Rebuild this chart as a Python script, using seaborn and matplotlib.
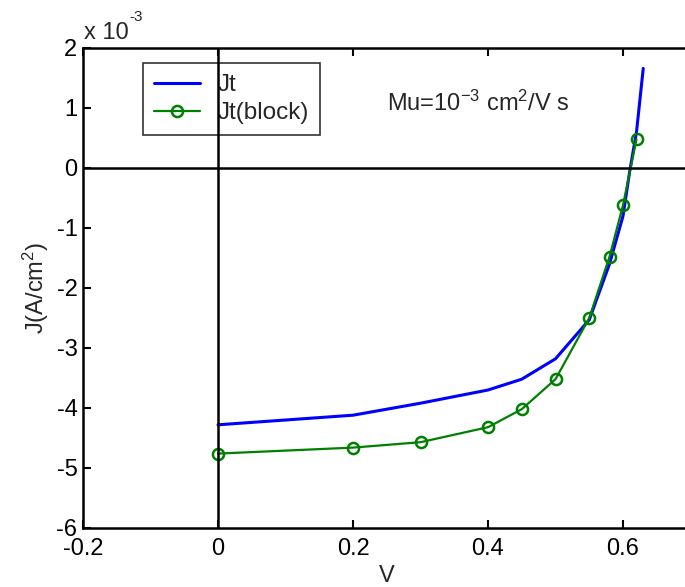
import matplotlib
matplotlib.use("Agg")
import matplotlib.pyplot as plt
import seaborn as sns
import pandas as pd

# Current density vs. voltage (J in units of 1e-3 A/cm^2)
v_jt = [0.0, 0.1, 0.2, 0.3, 0.4, 0.45, 0.5, 0.55, 0.58, 0.6, 0.61, 0.62, 0.63]
j_jt = [-4.28, -4.20, -4.12, -3.92, -3.70, -3.52, -3.18, -2.53, -1.60, -0.80, -0.05, 0.60, 1.66]

v_block = [0.0, 0.2, 0.3, 0.4, 0.45, 0.5, 0.55, 0.58, 0.6, 0.62]
j_block = [-4.76, -4.66, -4.57, -4.32, -4.02, -3.52, -2.50, -1.48, -0.62, 0.48]

x_ticks = [-0.2, 0, 0.2, 0.4, 0.6]
x_tick_labels = ["-0.2", "0", "0.2", "0.4", "0.6"]
y_ticks = [-6, -5, -4, -3, -2, -1, 0, 1, 2]

sns.set_style("white")
plt.rcParams["font.family"] = ["Liberation Sans", "DejaVu Sans"]
plt.rcParams["mathtext.fontset"] = "custom"
plt.rcParams["mathtext.rm"] = "Liberation Sans"
plt.rcParams["mathtext.default"] = "regular"

W, H = 685, 587
fig = plt.figure(figsize=(W / 100, H / 100), dpi=100)
ax = fig.add_axes([83 / W, 1 - 528 / H, (690.5 - 83) / W, (528 - 48) / H])

df_jt = pd.DataFrame({"V": v_jt, "J": j_jt})
df_block = pd.DataFrame({"V": v_block, "J": j_block})

sns.lineplot(data=df_jt, x="V", y="J", ax=ax, color="#0000ff", linewidth=2.2,
             label="Jt", zorder=3)
sns.lineplot(data=df_block, x="V", y="J", ax=ax, color="#008000", linewidth=1.6,
             marker="o", markersize=8, markerfacecolor="none",
             markeredgecolor="#008000", markeredgewidth=1.8,
             label="Jt(block)", zorder=3)

# zero axes
ax.axhline(0, color="black", linewidth=1.8, zorder=4)
ax.axvline(0, color="black", linewidth=1.8, zorder=4)

ax.set_xlim(-0.2, 0.7)
ax.set_ylim(-6, 2)
ax.set_xticks(x_ticks)
ax.set_xticklabels(x_tick_labels)
ax.set_yticks(y_ticks)
ax.set_yticklabels([str(t) for t in y_ticks])
ax.tick_params(axis="both", direction="in", length=6, width=1.5, labelsize=17,
               top=True, bottom=True, left=True, right=False,
               colors="black")
ax.tick_params(axis="x", pad=7)
ax.tick_params(axis="y", pad=4)
for side in ("left", "top", "bottom", "right"):
    ax.spines[side].set_color("black")
    ax.spines[side].set_linewidth(1.8)

ax.set_xlabel("V", fontsize=17, labelpad=4)
ax.set_ylabel("J(A/cm$^2$)", fontsize=17, labelpad=4)

# exponent marker above the y axis
fig.text(84 / W, 1 - 33 / H, "x 10", fontsize=17, ha="left", va="center")
fig.text(129 / W, 1 - 17 / H, "-3", fontsize=11, ha="left", va="center")

ax.text(387 / W, 1 - 103 / H, "Mu=10$^{-3}$ cm$^2$/V s", fontsize=17,
        transform=fig.transFigure, ha="left", va="center")

leg = ax.legend(loc="upper left", bbox_to_anchor=(142.7 / W, 1 - 63.3 / H),
                bbox_transform=fig.transFigure, fontsize=17.5, frameon=True,
                fancybox=False, handlelength=1.9, handletextpad=0.75,
                labelspacing=0.25, borderpad=0.45, borderaxespad=0)
leg.get_frame().set_edgecolor("black")
leg.get_frame().set_linewidth(1.2)
leg.get_frame().set_facecolor("none")
leg.set_zorder(2)

fig.savefig("out.png", dpi=100, facecolor="white")
